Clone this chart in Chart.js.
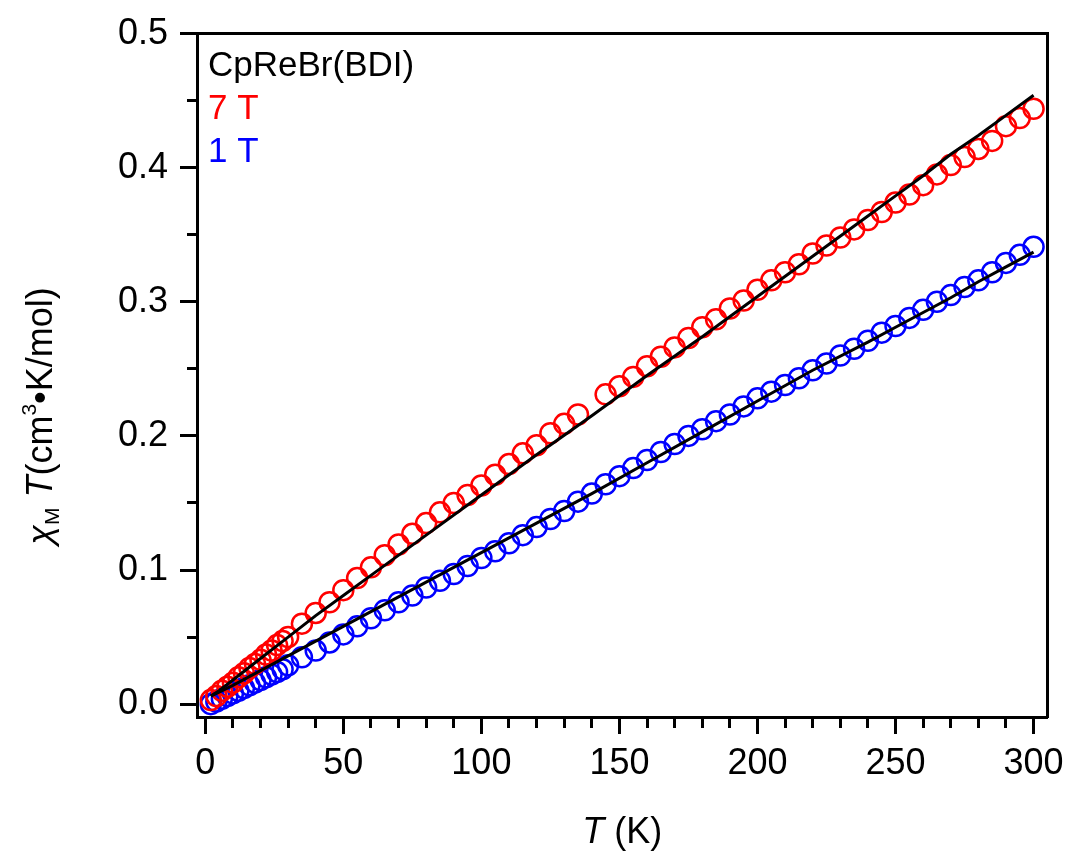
<!DOCTYPE html>
<html>
<head>
<meta charset="utf-8">
<script src="https://cdn.jsdelivr.net/npm/chart.js@4/dist/chart.umd.min.js"></script>
<style>
  html, body { margin: 0; padding: 0; background: #fff; }
  canvas { display: block; }
</style>
</head>
<body>
<canvas id="chart" width="1072" height="855"></canvas>
<script>
// chi_M*T vs T for CpReBr(BDI), two fields, plus fit curves

var FONT = "'Liberation Sans', Arial, sans-serif";

// 7 T data (K, cm3 K/mol)
var redT   = [2, 4, 6, 8, 10, 12, 14, 16, 18, 20, 22, 24, 26, 28, 30, 35, 40, 45, 50, 55,
              60, 65, 70, 75, 80, 85, 90, 95, 100, 105, 110, 115, 120, 125, 130, 135, 145, 150, 155, 160,
              165, 170, 175, 180, 185, 190, 195, 200, 205, 210, 215, 220, 225, 230, 235, 240, 245, 250, 255, 260,
              265, 270, 275, 280, 285, 290, 295, 300];
var redChi = [0.003, 0.006, 0.010, 0.013, 0.016, 0.020, 0.023, 0.027, 0.030, 0.033, 0.037, 0.040, 0.044, 0.047, 0.050, 0.060, 0.068, 0.076, 0.085, 0.094,
              0.102, 0.111, 0.119, 0.127, 0.135, 0.143, 0.150, 0.156, 0.163, 0.171, 0.179, 0.187, 0.193, 0.202, 0.209, 0.216, 0.231, 0.237, 0.244, 0.252,
              0.259, 0.266, 0.273, 0.281, 0.287, 0.295, 0.301, 0.309, 0.316, 0.322, 0.328, 0.336, 0.342, 0.348, 0.354, 0.361, 0.367, 0.374, 0.380, 0.387,
              0.395, 0.402, 0.408, 0.414, 0.420, 0.431, 0.437, 0.444];

// 1 T data
var blueT   = [2, 4, 6, 8, 10, 12, 14, 16, 18, 20, 22, 24, 26, 28, 30, 35, 40, 45, 50, 55,
               60, 65, 70, 75, 80, 85, 90, 95, 100, 105, 110, 115, 120, 125, 130, 135, 140, 145, 150, 155,
               160, 165, 170, 175, 180, 185, 190, 195, 200, 205, 210, 215, 220, 225, 230, 235, 240, 245, 250, 255,
               260, 265, 270, 275, 280, 285, 290, 295, 300];
var blueChi = [0.000, 0.002, 0.004, 0.006, 0.008, 0.010, 0.012, 0.014, 0.016, 0.018, 0.020, 0.022, 0.024, 0.026, 0.029, 0.035, 0.040, 0.046, 0.052, 0.058,
               0.064, 0.070, 0.076, 0.081, 0.087, 0.092, 0.097, 0.103, 0.109, 0.114, 0.120, 0.126, 0.132, 0.138, 0.144, 0.151, 0.157, 0.164, 0.170, 0.176,
               0.182, 0.188, 0.194, 0.200, 0.205, 0.211, 0.216, 0.222, 0.228, 0.233, 0.238, 0.243, 0.249, 0.254, 0.260, 0.265, 0.271, 0.277, 0.282, 0.288,
               0.294, 0.300, 0.305, 0.311, 0.316, 0.322, 0.329, 0.335, 0.341];

// fit curves (black)
var fitT       = [2, 5, 10, 20, 30, 40, 50, 60, 80, 100, 120, 140, 160, 180, 200, 220, 240, 250, 260, 270, 280, 290, 300];
var redFitChi  = [0.006, 0.010, 0.018, 0.034, 0.050, 0.066, 0.081, 0.096, 0.126, 0.156, 0.186, 0.215, 0.245, 0.274, 0.304, 0.334, 0.364, 0.379, 0.394, 0.410, 0.424, 0.439, 0.454];
var blueFitChi = [0.006, 0.009, 0.014, 0.025, 0.036, 0.047, 0.058, 0.069, 0.091, 0.113, 0.135, 0.157, 0.180, 0.203, 0.226, 0.249, 0.270, 0.281, 0.292, 0.303, 0.315, 0.326, 0.337];

var xMajor = [0, 50, 100, 150, 200, 250, 300];
var yMajor = [0.0, 0.1, 0.2, 0.3, 0.4, 0.5];
var yLabels = ['0.0', '0.1', '0.2', '0.3', '0.4', '0.5'];

var legendLines = [
  { text: 'CpReBr(BDI)', color: '#000000' },
  { text: '7 T', color: '#ff0000' },
  { text: '1 T', color: '#0000ff' }
];

var MAJOR_LEN = 17;
var MINOR_LEN = 9;

function pts(xs, ys) {
  return xs.map(function (x, i) { return { x: x, y: ys[i] }; });
}

function isMajorX(v) { return xMajor.indexOf(Math.round(v)) >= 0; }
function isMajorY(v) {
  return yMajor.some(function (m) { return Math.abs(m - v) < 1e-6; });
}

// draw a run of text pieces with own fonts and baseline shifts, centred on cx
function drawRun(c, parts, cx, by) {
  var total = 0;
  parts.forEach(function (p) { c.font = p.font; p.w = c.measureText(p.text).width; total += p.w; });
  var x = cx - total / 2;
  parts.forEach(function (p) {
    c.font = p.font;
    c.fillText(p.text, x, by + (p.dy || 0));
    x += p.w;
  });
}

var textPlugin = {
  id: 'textPlugin',
  afterDraw: function (chart) {
    var c = chart.ctx, area = chart.chartArea;
    c.save();
    c.textAlign = 'left';
    c.textBaseline = 'alphabetic';

    // legend inside the frame
    c.font = '35px ' + FONT;
    legendLines.forEach(function (l, i) {
      c.fillStyle = l.color;
      c.fillText(l.text, area.left + 11, area.top + 42 + i * 43);
    });

    c.fillStyle = '#000';
    // x title
    drawRun(c, [
      { text: 'T', font: 'italic 36px ' + FONT },
      { text: ' (K)', font: '36px ' + FONT }
    ], (area.left + area.right) / 2, 843);

    // y title
    c.translate(52, 416);
    c.rotate(-Math.PI / 2);
    drawRun(c, [
      { text: '\u03c7', font: 'italic 36px ' + FONT },
      { text: 'M', font: '21px ' + FONT, dy: 7 },
      { text: ' ', font: '36px ' + FONT },
      { text: 'T', font: 'italic 36px ' + FONT },
      { text: '(cm', font: '36px ' + FONT },
      { text: '3', font: '21px ' + FONT, dy: -16 },
      { text: '\u2022K/mol)', font: '36px ' + FONT }
    ], 0, 0);
    c.restore();
  }
};

var ctx = document.getElementById('chart').getContext('2d');

new Chart(ctx, {
  type: 'scatter',
  data: {
    datasets: [
      {
        label: '7 T fit',
        data: pts(fitT, redFitChi),
        showLine: true,
        borderColor: '#000',
        borderWidth: 3,
        pointRadius: 0,
        tension: 0
      },
      {
        label: '1 T fit',
        data: pts(fitT, blueFitChi),
        showLine: true,
        borderColor: '#000',
        borderWidth: 3,
        pointRadius: 0,
        tension: 0
      },
      {
        label: '7 T',
        data: pts(redT, redChi),
        pointStyle: 'circle',
        pointRadius: 10,
        pointBorderWidth: 2.5,
        pointBorderColor: '#ff0000',
        pointBackgroundColor: 'rgba(0,0,0,0)'
      },
      {
        label: '1 T',
        data: pts(blueT, blueChi),
        pointStyle: 'circle',
        pointRadius: 10,
        pointBorderWidth: 2.5,
        pointBorderColor: '#0000ff',
        pointBackgroundColor: 'rgba(0,0,0,0)'
      }
    ]
  },
  options: {
    responsive: false,
    animation: false,
    layout: { padding: 0 },
    plugins: {
      legend: { display: false },
      tooltip: { enabled: false }
    },
    scales: {
      x: {
        type: 'linear',
        position: 'bottom',
        min: -3,
        max: 305,
        afterBuildTicks: function (scale) {
          var t = [];
          for (var v = 0; v <= 300; v += 10) t.push({ value: v });
          scale.ticks = t;
        },
        afterFit: function (scale) { scale.height = 855 - 717; },
        ticks: {
          autoSkip: false,
          maxRotation: 0,
          padding: 8,
          color: '#000',
          font: { family: FONT, size: 36 },
          callback: function (v) { return isMajorX(v) ? String(Math.round(v)) : ''; }
        },
        grid: {
          drawOnChartArea: false,
          tickLength: MAJOR_LEN,
          tickWidth: 3,
          tickColor: '#000',
          tickBorderDash: function (c) {
            return (c.tick && !isMajorX(c.tick.value)) ? [MINOR_LEN, 60] : [];
          }
        },
        border: { color: '#000', width: 3 }
      },
      y: {
        type: 'linear',
        position: 'left',
        min: -0.0096,
        max: 0.5,
        afterBuildTicks: function (scale) {
          var t = [];
          for (var i = 0; i <= 10; i++) t.push({ value: Math.round(i * 5) / 100 });
          scale.ticks = t;
        },
        afterFit: function (scale) { scale.width = 197; },
        ticks: {
          autoSkip: false,
          padding: 12,
          color: '#000',
          font: { family: FONT, size: 36 },
          callback: function (v) {
            for (var i = 0; i < yMajor.length; i++) {
              if (Math.abs(yMajor[i] - v) < 1e-6) return yLabels[i];
            }
            return '';
          }
        },
        grid: {
          drawOnChartArea: false,
          tickLength: MAJOR_LEN,
          tickWidth: 3,
          tickColor: '#000',
          tickBorderDash: function (c) {
            return (c.tick && !isMajorY(c.tick.value)) ? [MINOR_LEN, 60] : [];
          },
          tickBorderDashOffset: function (c) {
            return (c.tick && !isMajorY(c.tick.value)) ? (MINOR_LEN + 60) - (MAJOR_LEN - 1 - MINOR_LEN) : 0;
          }
        },
        border: { color: '#000', width: 3 }
      },
      xTop: {
        type: 'linear',
        position: 'top',
        min: -3,
        max: 305,
        afterFit: function (scale) { scale.height = 30; },
        ticks: { display: false },
        grid: { drawOnChartArea: false, drawTicks: false },
        border: { color: '#000', width: 3 }
      },
      yRight: {
        type: 'linear',
        position: 'right',
        min: -0.0096,
        max: 0.5,
        afterFit: function (scale) { scale.width = 1072 - 1049; },
        ticks: { display: false },
        grid: { drawOnChartArea: false, drawTicks: false },
        border: { color: '#000', width: 3 }
      }
    }
  },
  plugins: [textPlugin]
});
</script>
</body>
</html>
